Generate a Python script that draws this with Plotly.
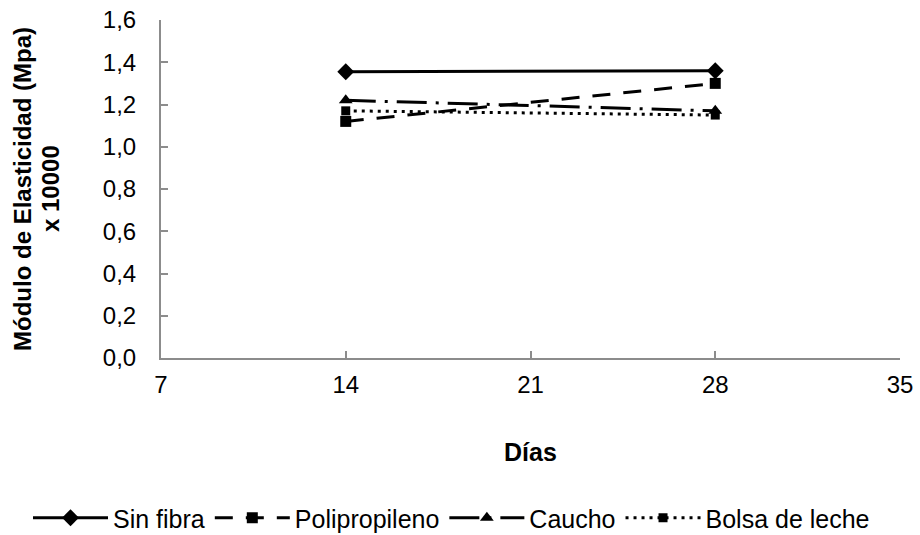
import plotly.graph_objects as go

dias = [14, 28]
sin_fibra = [1.355, 1.36]
polipropileno = [1.12, 1.30]
caucho = [1.22, 1.17]
bolsa_leche = [1.17, 1.15]

x_ticks = [7, 14, 21, 28, 35]
y_ticks = [0.0, 0.2, 0.4, 0.6, 0.8, 1.0, 1.2, 1.4, 1.6]
y_tick_text = [f"{v:.1f}".replace(".", ",") for v in y_ticks]

FONT = "Liberation Sans, Arial, sans-serif"
AXIS_COLOR = "#8c8c8c"
W, H = 920, 535

series = [
    ("Sin fibra", sin_fibra, "solid", "diamond", 13),
    ("Polipropileno", polipropileno, "18px,13px", "square", 11),
    ("Caucho", caucho, "30px,9px,3px,9px", "triangle-up", 12),
    ("Bolsa de leche", bolsa_leche, "3px,5px", "square", 9),
]

fig = go.Figure()
for name, vals, dash, symbol, size in series:
    fig.add_trace(go.Scatter(
        x=dias, y=vals, name=name, mode="lines+markers",
        line=dict(color="black", width=3, dash=dash),
        marker=dict(symbol=symbol, size=size, color="black"),
    ))

plot_left, plot_right = 161, 900
plot_top, plot_bottom = 20, 358
plot_w = plot_right - plot_left
plot_h = plot_bottom - plot_top


def paper_y(px):
    return (plot_bottom - px) / plot_h


def paper_x(px):
    return (px - plot_left) / plot_w


fig.update_layout(
    width=W, height=H,
    margin=dict(l=plot_left, r=W - plot_right, t=plot_top, b=H - plot_bottom,
                autoexpand=False),
    paper_bgcolor="white", plot_bgcolor="white",
    font=dict(family=FONT, size=24, color="black"),
    showlegend=True,
    legend=dict(orientation="h", x=paper_x(28), xanchor="left",
                y=paper_y(518), yanchor="middle",
                font=dict(size=25), itemwidth=75, tracegroupgap=0,
                bgcolor="rgba(0,0,0,0)"),
    xaxis=dict(
        range=[7, 35], tickvals=x_ticks, ticktext=[str(v) for v in x_ticks],
        showgrid=False, zeroline=False, showline=True, linecolor=AXIS_COLOR, linewidth=2,
        ticks="inside", ticklen=7, tickcolor=AXIS_COLOR, tickwidth=2,
        tickfont=dict(size=24), ticklabelstandoff=4, automargin=False,
    ),
    yaxis=dict(
        range=[0, 1.6], tickvals=y_ticks, ticktext=y_tick_text,
        showgrid=False, zeroline=False, showline=True, linecolor=AXIS_COLOR, linewidth=2,
        ticks="inside", ticklen=7, tickcolor=AXIS_COLOR, tickwidth=2,
        tickfont=dict(size=24), ticklabelstandoff=18, automargin=False,
    ),
    annotations=[
        dict(text="<b>Días</b>", xref="paper", yref="paper", x=0.5, y=paper_y(452),
             xanchor="center", yanchor="middle", showarrow=False, font=dict(size=25)),
        dict(text="<b>Módulo de Elasticidad (Mpa)</b>", xref="paper", yref="paper",
             x=paper_x(22), y=0.5, xanchor="center", yanchor="middle",
             textangle=-90, showarrow=False, font=dict(size=24)),
        dict(text="<b>x 10000</b>", xref="paper", yref="paper",
             x=paper_x(50), y=0.5, xanchor="center", yanchor="middle",
             textangle=-90, showarrow=False, font=dict(size=24)),
    ],
)

fig.write_html("out.html")
